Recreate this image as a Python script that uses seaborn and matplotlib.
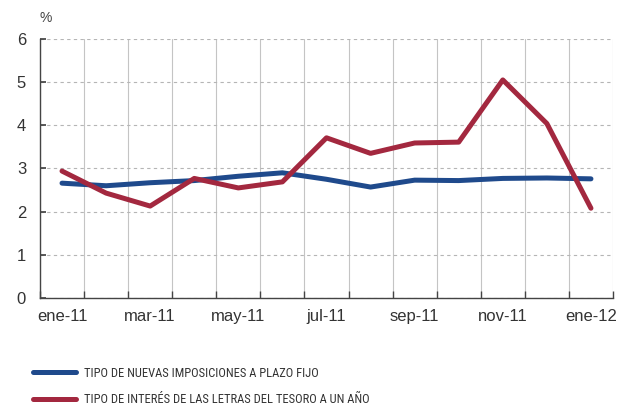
import matplotlib
matplotlib.use("Agg")
import matplotlib.pyplot as plt
import matplotlib.font_manager as fm
import seaborn as sns
import pandas as pd
import numpy as np
from matplotlib.ticker import FixedLocator
from matplotlib.lines import Line2D

months = ["ene-11", "feb-11", "mar-11", "abr-11", "may-11", "jun-11", "jul-11",
          "ago-11", "sep-11", "oct-11", "nov-11", "dic-11", "ene-12"]
plazo_fijo = [2.66, 2.60, 2.67, 2.72, 2.82, 2.90, 2.75, 2.57, 2.73, 2.72, 2.77, 2.78, 2.76]
letras = [2.94, 2.43, 2.13, 2.77, 2.55, 2.69, 3.71, 3.35, 3.59, 3.61, 5.05, 4.04, 2.08]
series_names = ["TIPO DE NUEVAS IMPOSICIONES A PLAZO FIJO",
                "TIPO DE INTERÉS DE LAS LETRAS DEL TESORO A UN AÑO"]
colors = ["#1f4a8c", "#a3283f"]

sns.set_theme(style="white")
plt.rcParams['font.family'] = ['Liberation Sans', 'DejaVu Sans']

# pick a condensed font for the legend if one is installed
legend_font = None
for cand in ["Liberation Sans Narrow", "Roboto Condensed", "Open Sans Condensed",
             "DejaVu Sans Condensed"]:
    try:
        fm.findfont(fm.FontProperties(family=cand), fallback_to_default=False)
        legend_font = cand
        break
    except Exception:
        pass

df = pd.DataFrame({
    "x": list(range(len(months))) * 2,
    "value": plazo_fijo + letras,
    "serie": [series_names[0]] * len(months) + [series_names[1]] * len(months),
})

fig = plt.figure(figsize=(6.17, 4.05), dpi=100)
ax = fig.add_axes([0.0648, 0.264, 0.9287, 0.640])

sns.lineplot(data=df, x="x", y="value", hue="serie", palette=colors,
             linewidth=3.6, ax=ax, legend=False)

ax.set_xlim(-0.5, len(months) - 0.5)
ax.set_ylim(0, 6)
ax.set_yticks(range(0, 7))
ax.set_xticks(range(0, len(months), 2))
ax.set_xticklabels(months[::2])
ax.xaxis.set_minor_locator(FixedLocator(np.arange(-0.5, len(months), 1.0)))
ax.set_xlabel("")
ax.set_ylabel("")

ax.grid(False)
ax.yaxis.grid(True, which="major", linestyle=(0, (3, 3)), color="#b5b5b5", linewidth=0.8)
ax.xaxis.grid(True, which="minor", linestyle="-", color="#c4c4c4", linewidth=0.8)
ax.set_axisbelow(True)

for s in ["top", "right"]:
    ax.spines[s].set_visible(False)
for s in ["left", "bottom"]:
    ax.spines[s].set_color("#444444")
    ax.spines[s].set_linewidth(1.0)

ax.tick_params(axis="x", which="major", length=0, pad=8, labelsize=12, labelcolor="#333333")
ax.tick_params(axis="x", which="minor", length=5, direction="in", color="#444444", width=1.0)
ax.tick_params(axis="y", which="major", length=4, direction="in", color="#444444",
               pad=10, labelsize=12, labelcolor="#333333")
ax.tick_params(axis="y", left=True)
ax.tick_params(axis="x", bottom=True, which="both")

fig.text(0.064, 0.955, "%", fontsize=10, color="#444444", ha="left", va="center")

handles = [Line2D([0], [0], color=c, linewidth=3.6) for c in colors]
if legend_font is not None:
    lsize = 9
    lfam = [legend_font, 'Liberation Sans', 'DejaVu Sans']
else:
    lsize = 8
    lfam = ['Liberation Sans', 'DejaVu Sans']
em = lsize * 100 / 72
leg = fig.legend(handles, series_names, loc="upper left", bbox_to_anchor=(0.045, 0.107),
                 frameon=False, prop={"size": lsize, "family": lfam},
                 handlelength=43 / em, handletextpad=8 / em,
                 labelspacing=1.1, borderaxespad=0)
for t in leg.get_texts():
    t.set_color("#333333")

fig.savefig("out.png", dpi=100)
